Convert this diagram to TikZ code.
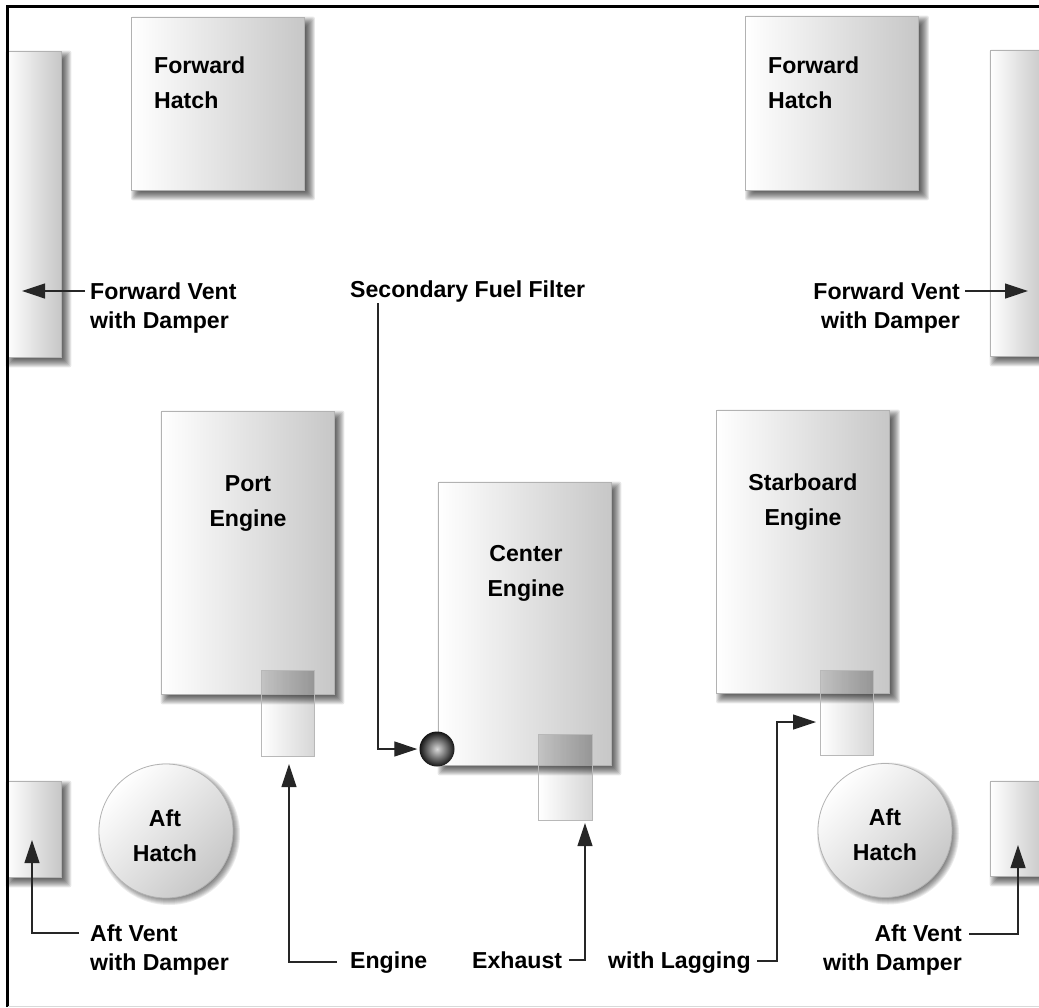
\documentclass[tikz,border=0pt]{standalone}
\usepackage{fontspec}
\setmainfont{Liberation Sans}
\usetikzlibrary{arrows.meta,backgrounds,fadings}

\tikzset{
	panel/.style={draw=black!30, line width=.8pt, left color=white, right color=black!22, inner sep=0pt},
	hatchround/.style={panel, circle, minimum size=134pt, shading angle=45},
	pipe/.style={fill=black, fill opacity=.16, path fading=west, inner sep=0pt, minimum width=53pt, minimum height=85pt},
	pipeline/.style={draw=black!28, line width=.9pt},
	dimmed/.style={fill=black, fill opacity=.12},
	bigtxt/.style={font=\bfseries\fontsize{23.1}{35}\selectfont, inner sep=0pt, align=center},
	smalltxt/.style={font=\bfseries\fontsize{23.1}{29}\selectfont, inner sep=0pt},
	pointer/.style={draw=black!85, line width=1.2pt, -{Triangle[length=23pt,width=15pt]}},
}

\newcommand{\softshadow}[1]{
	\begin{pgfonlayer}{background}
		\foreach \e in {-4,...,5}
			\fill[black, opacity=.09, rounded corners=2pt] ([shift={(5-\e,5-\e)}]#1.north west) rectangle ([shift={(5+\e,5+\e)}]#1.south east);
	\end{pgfonlayer}
}
\newcommand{\roundshadow}[1]{
	\begin{pgfonlayer}{background}
		\foreach \e in {-4,...,4}
			\fill[black, opacity=.08] ([shift={(3,3)}]#1.center) circle (67+\e);
	\end{pgfonlayer}
}

\begin{document}
\begin{tikzpicture}[x=1pt, y=-1pt]
	\useasboundingbox (0,0) rectangle (1039,1007);

	\node[panel, minimum width=173pt, minimum height=173pt] (hatch_fl) at (218,103.5) {};
	\node[panel, minimum width=173pt, minimum height=174pt] (hatch_fr) at (832,103) {};
	\node[panel, minimum width=55pt, minimum height=306pt] (vent_fl) at (33.5,204) {};
	\node[panel, minimum width=55pt, minimum height=306pt] (vent_fr) at (1017.5,203) {};
	\node[panel, minimum width=55pt, minimum height=96pt] (vent_al) at (33.5,829) {};
	\node[panel, minimum width=55pt, minimum height=95pt] (vent_ar) at (1017.5,828.5) {};
	\node[panel, minimum width=173pt, minimum height=283pt] (eng_port) at (247.5,552.5) {};
	\node[panel, minimum width=173pt, minimum height=283pt] (eng_center) at (524.5,623.5) {};
	\node[panel, minimum width=173pt, minimum height=283pt] (eng_star) at (803,551.5) {};
	\node[hatchround] (hatch_al) at (166,831) {};
	\node[hatchround] (hatch_ar) at (885,830.5) {};
	\softshadow{hatch_fl} \softshadow{hatch_fr}
	\softshadow{vent_fl} \softshadow{vent_fr}
	\softshadow{vent_al} \softshadow{vent_ar}
	\softshadow{eng_port} \softshadow{eng_center} \softshadow{eng_star}
	\roundshadow{hatch_al} \roundshadow{hatch_ar}

	\node[pipe] (pipe_port) at (288,713.5) {};
	\node[pipe] (pipe_center) at (565.5,777.5) {};
	\node[pipe] (pipe_star) at (847,713) {};
	\fill[dimmed] (pipe_port.north west) rectangle (pipe_port.east |- eng_port.south);
	\fill[dimmed] (pipe_center.north west) rectangle (pipe_center.east |- eng_center.south);
	\fill[dimmed] (pipe_star.north west) rectangle (pipe_star.east |- eng_star.south);
	\draw[pipeline] (pipe_port.north west) rectangle (pipe_port.south east);
	\draw[pipeline] (pipe_center.north west) rectangle (pipe_center.south east);
	\draw[pipeline] (pipe_star.north west) rectangle (pipe_star.south east);
	\node[circle, minimum size=35pt, inner sep=0pt, shading=radial, inner color=black!15, outer color=black!92] (filter) at (437,749) {};

	\node[bigtxt, align=left, anchor=west] (txt_fl) at (154,83) {Forward\\Hatch};
	\node[bigtxt, align=left, anchor=west] (txt_fr) at (768,83) {Forward\\Hatch};
	\node[bigtxt] (txt_port) at (248,503) {Port\\Engine};
	\node[bigtxt] (txt_center) at (526,573) {Center\\Engine};
	\node[bigtxt] (txt_star) at (803,502) {Starboard\\Engine};
	\node[bigtxt] (txt_al) at (165,836) {Aft\\Hatch};
	\node[bigtxt] (txt_ar) at (885,835) {Aft\\Hatch};

	\node[smalltxt, anchor=base west] (lbl_vent_fl) at (90,299) {Forward Vent};
	\node[smalltxt, anchor=base west] at (90,328) {with Damper};
	\node[smalltxt, anchor=base east] (lbl_vent_fr) at (960,299) {Forward Vent};
	\node[smalltxt, anchor=base east] at (960,328) {with Damper};
	\node[smalltxt, anchor=base west] (lbl_vent_al) at (90,941) {Aft Vent};
	\node[smalltxt, anchor=base west] at (90,970) {with Damper};
	\node[smalltxt, anchor=base east] (lbl_vent_ar) at (962,941) {Aft Vent};
	\node[smalltxt, anchor=base east] at (962,970) {with Damper};
	\node[smalltxt, anchor=base west] (lbl_filter) at (350,297) {Secondary Fuel Filter};
	\node[smalltxt, anchor=base west] (lbl_engine) at (350,968) {Engine};
	\node[smalltxt, anchor=base west] (lbl_exhaust) at (472,968) {Exhaust};
	\node[smalltxt, anchor=base west] (lbl_lagging) at (608,968) {with Lagging};

	\coordinate (tip_vent_fl) at (22,291);
	\coordinate (tip_vent_fr) at (1028,291);
	\coordinate (tip_vent_al) at (32,840);
	\coordinate (tip_vent_ar) at (1018,845);
	\coordinate (tip_engine) at (289,764);
	\coordinate (tip_exhaust) at (585,823);
	\coordinate (tip_lagging) at (816,722);
	\coordinate (start_filter) at (378,303);
	\coordinate (bend_lagging) at (777,722);
	\coordinate (start_vent_fl) at (85,291);
	\coordinate (start_vent_fr) at (965,291);
	\coordinate (start_vent_al) at (79,933);
	\coordinate (start_vent_ar) at (969,934);
	\coordinate (start_engine) at (337,962);
	\coordinate (start_exhaust) at (569,960);
	\coordinate (start_lagging) at (757,961);

	\draw[pointer] (start_vent_fl) -- (tip_vent_fl);
	\draw[pointer] (start_vent_fr) -- (tip_vent_fr);
	\draw[pointer] (start_vent_al) -| (tip_vent_al);
	\draw[pointer] (start_vent_ar) -| (tip_vent_ar);
	\draw[pointer] (start_engine) -| (tip_engine);
	\draw[pointer] (start_exhaust) -| (tip_exhaust);
	\draw[pointer] (start_lagging) -| (bend_lagging) -- (tip_lagging);
	\draw[pointer] (start_filter) |- ([xshift=-2pt]filter.west);

	\draw[black, line width=3pt] (7,1007) -- (7,6) -- (1039,6);
	\draw[black!15, line width=1pt] (8,1006) -- (1039,1006);
\end{tikzpicture}
\end{document}
